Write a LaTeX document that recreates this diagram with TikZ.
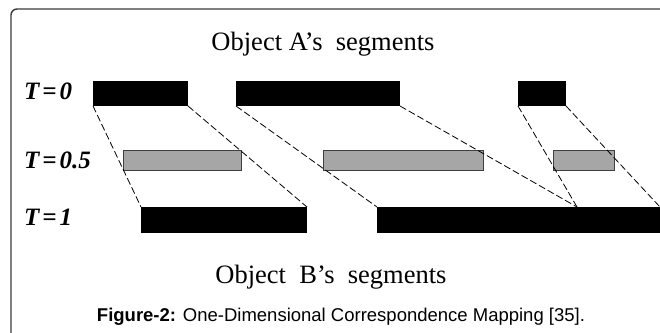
\documentclass[tikz,border=0pt]{standalone}
\usepackage{fontspec}
\setmainfont{Liberation Serif}
\newfontfamily\capfont{Liberation Sans}
\usetikzlibrary{positioning}
\definecolor{framegray}{HTML}{3A3A3A}
\definecolor{segfill}{HTML}{A6A6A6}
\definecolor{segline}{HTML}{404040}
\tikzstyle{blackseg} = [draw=none, fill=black, inner sep=0pt, outer sep=0pt, anchor=north west, minimum height=25pt]
\tikzstyle{grayseg} = [draw=segline, line width=0.8pt, fill=segfill, inner sep=0pt, outer sep=0pt, anchor=north west, minimum height=20pt]
\tikzstyle{tlabel} = [anchor=west, inner sep=0pt, font=\fontsize{25}{27}\selectfont\bfseries\itshape]
\tikzstyle{title} = [anchor=base, inner sep=0pt, font=\fontsize{26.5}{28}\selectfont]
\tikzstyle{link} = [black, line width=0.8pt, dash pattern=on 7pt off 3pt]
\newcommand{\eqsp}{\hspace{3pt}=\hspace{3pt}}

\begin{document}
\begin{tikzpicture}[x=1pt, y=-1pt]
    \useasboundingbox (0,0) rectangle (660,332);
    % Frame
    \draw[framegray, line width=1.4pt, rounded corners=6pt] (11,9) rectangle (720,380);

    % Titles and time labels
    \node[title] (ta) at (323,50) {Object A’s\ \ segments};
    \node[title] (tb) at (331,283) {Object\ \ B’s\ \ segments};
    \node[tlabel] (t0) at (24,91.5) {T\eqsp 0};
    \node[tlabel] (th) at (24,160) {T\eqsp 0.5};
    \node[tlabel] (t1) at (24,217.5) {T\eqsp 1};
    \node[anchor=base, inner sep=0pt, font=\capfont\fontsize{18.5}{20}\selectfont] (cap) at (341,321)
        {\textbf{Figure-2:} One-Dimensional Correspondence Mapping [35].};

    % Segments at T = 0
    \node[blackseg, minimum width=95pt] (a1) at (93,81) {};
    \node[blackseg, minimum width=164pt] (a2) at (236,81) {};
    \node[blackseg, minimum width=48pt] (a3) at (518,81) {};

    % Segments at T = 0.5
    \node[grayseg, minimum width=118pt] (h1) at (123,150) {};
    \node[grayseg, minimum width=160pt] (h2) at (323,150) {};
    \node[grayseg, minimum width=61pt] (h3) at (553,150) {};

    % Segments at T = 1
    \node[blackseg, minimum width=166pt, minimum height=26pt] (b1) at (141,207) {};
    \node[blackseg, minimum width=320pt, minimum height=26pt] (b2) at (377,207) {};
    \coordinate (m) at (577,207);
    \coordinate (e) at (660,207);

    % Correspondences
    \draw[link] (a1.south west) -- (b1.north west);
    \draw[link] (a1.south east) -- (b1.north east);
    \draw[link] (a2.south west) -- (b2.north west);
    \draw[link] (a2.south east) -- (m);
    \draw[link] (a3.south west) -- (m);
    \draw[link] (a3.south east) -- (e);
\end{tikzpicture}
\end{document}
